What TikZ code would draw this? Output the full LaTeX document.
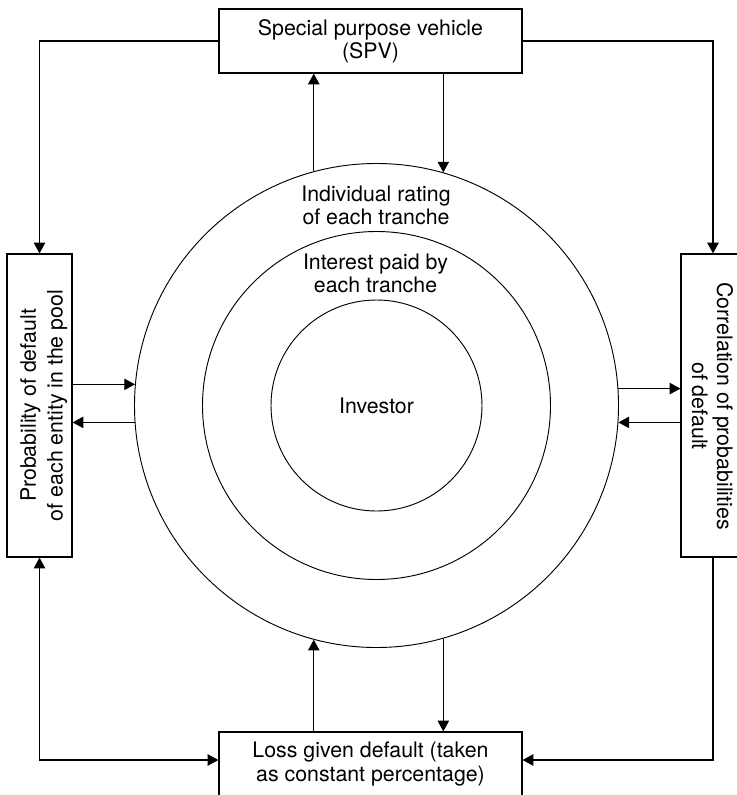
\documentclass[tikz,border=0pt]{standalone}
\usepackage{fontspec}
\setmainfont{TeX Gyre Heros}
\usetikzlibrary{arrows.meta,calc}
\begin{document}
\begin{tikzpicture}[x=0.75pt,y=-0.75pt,
  every node/.style={font=\fontsize{16}{17.5}\selectfont},
  box/.style={draw, line width=0.9pt, inner sep=0pt, align=center},
  ring/.style={draw, circle, line width=0.7pt, inner sep=0pt},
  label/.style={align=center, inner sep=0pt},
  link/.style={line width=0.9pt},
  tip/.style={-{Triangle[length=8pt,width=8.5pt]}},
  bothtips/.style={{Triangle[length=8pt,width=8.5pt]}-{Triangle[length=8pt,width=8.5pt]}},
]
\useasboundingbox (0,0) rectangle (737,795);
\clip (0,0) rectangle (737,795);

% concentric rings
\node[ring, minimum size=363pt] (outer) at (376.5,405.5) {};
\node[ring, minimum size=261pt] (middle) at (376.5,405.5) {};
\node[ring, minimum size=158.25pt] (inner) at (376.5,405.5) {Investor};
\node[label] (rating) at (376,205.7) {Individual rating\\of each tranche};
\node[label] (interest) at (375.5,273.7) {Interest paid by\\each tranche};

% surrounding boxes
\node[box, minimum width=227.25pt, minimum height=48pt] (spv) at (370.5,41)
  {Special purpose vehicle\\(SPV)};
\node[box, minimum width=227.25pt, minimum height=48pt] (lgd) at (370.5,764)
  {Loss given default (taken\\as constant percentage)};
\node[box, minimum width=48.75pt, minimum height=227.25pt] (pd) at (39.5,405.5) {};
\node[label, rotate=90, font=\fontsize{16}{20}\selectfont] (pdtext) at (43.8,405.5)
  {Probability of default\\of each entity in the pool};
\node[box, minimum width=48pt, minimum height=227.25pt] (cpd) at (713,405.5) {};
\node[label, rotate=-90, font=\fontsize{16}{18.75}\selectfont] (cpdtext) at (712.3,406)
  {Correlation of probabilities\\of default};

% SPV to the side boxes
\draw[link,tip] (spv.west) -| (pd.north);
\draw[link,tip] (spv.east) -| (cpd.north);

% SPV and the rings
\draw[link,tip] (outer.105.21) -- (outer.105.21 |- spv.south);
\draw[link,tip] (outer.74.54 |- spv.south) -- (outer.74.54);

% loss given default and the rings
\draw[link,tip] (outer.-105.21 |- lgd.north) -- (outer.-105.21);
\draw[link,tip] (outer.-74.54) -- (outer.-74.54 |- lgd.north);

% side boxes and the rings
\draw[link,tip] (outer.175.62 -| pd.east) -- (outer.175.62);
\draw[link,tip] (outer.184.15) -- (outer.184.15 -| pd.east);
\draw[link,tip] (outer.4.38) -- (outer.4.38 -| cpd.west);
\draw[link,tip] (outer.-4.15 -| cpd.west) -- (outer.-4.15);

% side boxes to loss given default
\coordinate (lgdl) at ($(lgd.west)+(0,-4)$);
\coordinate (lgdr) at ($(lgd.east)+(0,-4)$);
\draw[link,bothtips] (pd.south) |- (lgdl);
\draw[link,tip] (cpd.south) |- (lgdr);
\end{tikzpicture}
\end{document}
